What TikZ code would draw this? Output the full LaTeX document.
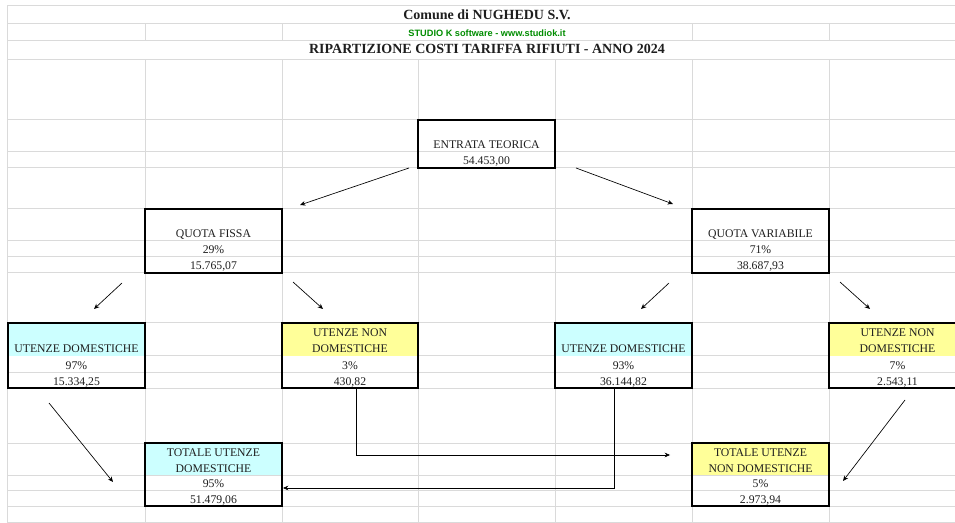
\documentclass[tikz,border=0pt]{standalone}
\usepackage{fontspec}
\setmainfont{Liberation Serif}
\newfontfamily\arialfont{Liberation Sans}
\usetikzlibrary{arrows.meta,fit}
\definecolor{gridgray}{RGB}{218,218,218}
\definecolor{cellcyan}{RGB}{204,255,255}
\definecolor{cellyellow}{RGB}{255,255,153}
\definecolor{studiogreen}{RGB}{0,140,0}
\definecolor{txt}{RGB}{30,30,30}
\begin{document}
\begin{tikzpicture}[x=0.75pt,y=-0.75pt,
  gridln/.style={gridgray, line width=0.75pt},
  cellbox/.style={draw=black, line width=1.5pt, inner sep=0pt},
  celltxt/.style={anchor=base, inner sep=0pt, font=\fontsize{8.8}{10}\selectfont, text=txt},
  titletxt/.style={anchor=base, inner sep=0pt, font=\bfseries\fontsize{10.5}{12}\selectfont, text=txt},
  conn/.style={line width=0.5pt, -{Stealth[length=4pt,width=3.5pt]}}]
\useasboundingbox (0,0) rectangle (955,523);
\clip (0,0) rectangle (955,523);
% grid
\foreach \y in {6,24,41,60,120,152,168,209,241,257,273,323,356,372,388,443,475,490,506,522}
  \draw[gridln] (7,\y) -- (960,\y);
\foreach \x in {7,145,282,418,555,692,829}
  \draw[gridln] (\x,60) -- (\x,522);
\foreach \x in {7,145,282,692,829}
  \draw[gridln] (\x,24) -- (\x,41);
\draw[gridln] (7,6) -- (7,60);
% titles
\node[titletxt] (t1) at (487,20) {Comune di NUGHEDU S.V.};
\node[anchor=base, inner sep=0pt, font=\arialfont\bfseries\fontsize{6.9}{8}\selectfont, text=studiogreen] (t2) at (487,36.5) {STUDIO K software - www.studiok.it};
\node[titletxt] (t3) at (487,54) {RIPARTIZIONE COSTI TARIFFA RIFIUTI - ANNO 2024};
% coloured header cells
\fill[cellcyan] (8,323) rectangle (145,356);
\fill[cellyellow] (282,323) rectangle (418,356);
\fill[cellcyan] (555,323) rectangle (692,356);
\fill[cellyellow] (829,323) rectangle (966,356);
\fill[cellcyan] (145,443) rectangle (282,475);
\fill[cellyellow] (692,443) rectangle (829,475);
% boxes
\node[cellbox, fit={(418,120) (555,168)}] (et) {};
\node[cellbox, fit={(145,209) (282,273)}] (qf) {};
\node[cellbox, fit={(692,209) (829,273)}] (qv) {};
\node[cellbox, fit={(8,323) (145,388)}] (ud1) {};
\node[cellbox, fit={(282,323) (418,388)}] (und1) {};
\node[cellbox, fit={(555,323) (692,388)}] (ud2) {};
\node[cellbox, fit={(829,323) (966,388)}] (und2) {};
\node[cellbox, fit={(145,443) (282,506)}] (tud) {};
\node[cellbox, fit={(692,443) (829,506)}] (tund) {};
% texts
\node[celltxt] (et1) at (486.5,149) {ENTRATA TEORICA};
\node[celltxt] (et2) at (486.5,165) {54.453,00};
\node[celltxt] (qf1) at (213.5,238) {QUOTA FISSA};
\node[celltxt] (qf2) at (213.5,254) {29\%};
\node[celltxt] (qf3) at (213.5,270) {15.765,07};
\node[celltxt] (qv1) at (760.5,238) {QUOTA VARIABILE};
\node[celltxt] (qv2) at (760.5,254) {71\%};
\node[celltxt] (qv3) at (760.5,270) {38.687,93};
\node[celltxt] (ud11) at (76.5,353) {UTENZE DOMESTICHE};
\node[celltxt] (ud12) at (76.5,369) {97\%};
\node[celltxt] (ud13) at (76.5,385) {15.334,25};
\node[celltxt] (und11) at (350,337) {UTENZE NON};
\node[celltxt] (und12) at (350,353) {DOMESTICHE};
\node[celltxt] (und13) at (350,369) {3\%};
\node[celltxt] (und14) at (350,385) {430,82};
\node[celltxt] (ud21) at (623.5,353) {UTENZE DOMESTICHE};
\node[celltxt] (ud22) at (623.5,369) {93\%};
\node[celltxt] (ud23) at (623.5,385) {36.144,82};
\node[celltxt] (und21) at (897.5,337) {UTENZE NON};
\node[celltxt] (und22) at (897.5,353) {DOMESTICHE};
\node[celltxt] (und23) at (897.5,369) {7\%};
\node[celltxt] (und24) at (897.5,385) {2.543,11};
\node[celltxt] (tud1) at (213.5,456) {TOTALE UTENZE};
\node[celltxt] (tud2) at (213.5,472) {DOMESTICHE};
\node[celltxt] (tud3) at (213.5,487) {95\%};
\node[celltxt] (tud4) at (213.5,503) {51.479,06};
\node[celltxt] (tund1) at (760.5,456) {TOTALE UTENZE};
\node[celltxt] (tund2) at (760.5,472) {NON DOMESTICHE};
\node[celltxt] (tund3) at (760.5,487) {5\%};
\node[celltxt] (tund4) at (760.5,503) {2.973,94};
% connector end points
\coordinate (a1s) at (409,168); \coordinate (a1e) at (300,205);
\coordinate (a2s) at (576,168); \coordinate (a2e) at (673,204);
\coordinate (a3s) at (122,283); \coordinate (a3e) at (94,309);
\coordinate (a4s) at (293,282); \coordinate (a4e) at (323,309);
\coordinate (a5s) at (669,283); \coordinate (a5e) at (641,309);
\coordinate (a6s) at (840,282); \coordinate (a6e) at (870,309);
\coordinate (a7s) at (49,403);  \coordinate (a7e) at (113,482);
\coordinate (a8s) at (356,388); \coordinate (a8m) at (356,455); \coordinate (a8e) at (670,455);
\coordinate (a9s) at (614,388); \coordinate (a9m) at (614,488); \coordinate (a9e) at (283,488);
\coordinate (a10s) at (905,400); \coordinate (a10e) at (843,481);
% connectors
\draw[conn] (a1s) -- (a1e);
\draw[conn] (a2s) -- (a2e);
\draw[conn] (a3s) -- (a3e);
\draw[conn] (a4s) -- (a4e);
\draw[conn] (a5s) -- (a5e);
\draw[conn] (a6s) -- (a6e);
\draw[conn] (a7s) -- (a7e);
\draw[conn] (a8s) -- (a8m) -- (a8e);
\draw[conn] (a9s) -- (a9m) -- (a9e);
\draw[conn] (a10s) -- (a10e);
\end{tikzpicture}
\end{document}
